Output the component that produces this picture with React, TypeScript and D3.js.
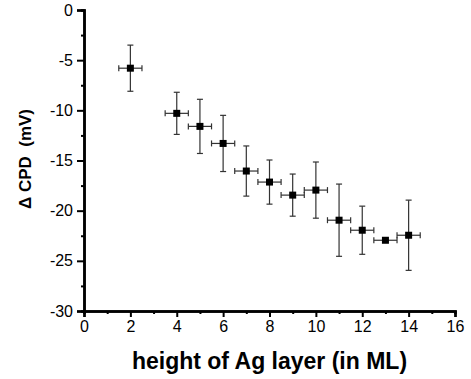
import React, { useRef, useEffect } from "react";
import * as d3 from "d3";

const heights = [2, 4, 5, 6, 7, 8, 9, 10, 11, 12, 13, 14];
const cpd = [-5.8, -10.3, -11.6, -13.3, -16.05, -17.15, -18.45, -17.95, -20.95, -21.95, -22.95, -22.45];
const cpdErr = [2.3, 2.1, 2.7, 2.8, 2.5, 2.2, 2.1, 2.8, 3.6, 2.4, 0.1, 3.5];
const heightErr = [0.5, 0.5, 0.5, 0.5, 0.5, 0.5, 0.5, 0.5, 0.5, 0.5, 0.5, 0.5];
const xTicks = [0, 2, 4, 6, 8, 10, 12, 14, 16];
const yTicks = [0, -5, -10, -15, -20, -25, -30];

const W = 471;
const H = 379;

const App = () => {
  const ref = useRef<SVGSVGElement>(null);

  useEffect(() => {
    const svg = d3.select(ref.current);
    svg.selectAll("*").remove();
    const margin = { top: 10, right: 16, bottom: 68, left: 84 };
    const innerW = W - margin.left - margin.right;
    const innerH = H - margin.top - margin.bottom;

    const x = d3.scaleLinear().domain([0, 16]).range([0, innerW]);
    const y = d3.scaleLinear().domain([-30, 0]).range([innerH, 0]);

    const g = svg.append("g").attr("transform", `translate(${margin.left},${margin.top})`);
    const font = "Liberation Sans, Arial, sans-serif";
    const fmt = (d: any) => String(d);

    // minor ticks
    const xAxisG = g.append("g").attr("transform", `translate(0,${innerH})`);
    xAxisG.call(
      d3.axisBottom(x).tickValues(d3.range(1, 16, 2)).tickSize(3).tickFormat(() => "")
    );
    xAxisG
      .append("g")
      .call(d3.axisBottom(x).tickValues(xTicks).tickSize(6).tickPadding(4).tickFormat(fmt));
    xAxisG.selectAll("path.domain").attr("stroke-width", 2.5).attr("stroke", "#000");
    xAxisG.selectAll("line").attr("stroke-width", 2).attr("stroke", "#000");
    xAxisG.selectAll("text").attr("font-family", font).attr("font-size", 16).attr("fill", "#000");

    const yAxisG = g.append("g");
    yAxisG.call(
      d3.axisLeft(y).tickValues(d3.range(-27.5, 0, 5)).tickSize(3).tickFormat(() => "")
    );
    yAxisG
      .append("g")
      .call(d3.axisLeft(y).tickValues(yTicks).tickSize(7).tickPadding(4).tickFormat(fmt));
    yAxisG.selectAll("path.domain").attr("stroke-width", 2.5).attr("stroke", "#000");
    yAxisG.selectAll("line").attr("stroke-width", 2).attr("stroke", "#000");
    yAxisG.selectAll("text").attr("font-family", font).attr("font-size", 16).attr("fill", "#000");

    const pts = heights.map((h, i) => ({ h, v: cpd[i], ev: cpdErr[i], eh: heightErr[i] }));
    const cap = 3;
    const eb = g.append("g").attr("stroke", "#333").attr("stroke-width", 1.2).attr("fill", "none");
    pts.forEach((p) => {
      const cx = x(p.h);
      const cy = y(p.v);
      const y1 = y(p.v + p.ev);
      const y2 = y(p.v - p.ev);
      const x1 = x(p.h - p.eh);
      const x2 = x(p.h + p.eh);
      eb.append("line").attr("x1", cx).attr("x2", cx).attr("y1", y1).attr("y2", y2);
      eb.append("line").attr("x1", cx - cap).attr("x2", cx + cap).attr("y1", y1).attr("y2", y1);
      eb.append("line").attr("x1", cx - cap).attr("x2", cx + cap).attr("y1", y2).attr("y2", y2);
      eb.append("line").attr("x1", x1).attr("x2", x2).attr("y1", cy).attr("y2", cy);
      eb.append("line").attr("x1", x1).attr("x2", x1).attr("y1", cy - cap).attr("y2", cy + cap);
      eb.append("line").attr("x1", x2).attr("x2", x2).attr("y1", cy - cap).attr("y2", cy + cap);
    });

    g.selectAll("rect.pt")
      .data(pts)
      .enter()
      .append("rect")
      .attr("class", "pt")
      .attr("x", (d) => x(d.h) - 3.5)
      .attr("y", (d) => y(d.v) - 3.5)
      .attr("width", 7)
      .attr("height", 7)
      .attr("fill", "#000");

    svg
      .append("text")
      .attr("x", margin.left + innerW / 2)
      .attr("y", 369)
      .attr("text-anchor", "middle")
      .attr("font-family", font)
      .attr("font-weight", "bold")
      .attr("font-size", 23)
      .text("height of Ag layer (in ML)");

    svg
      .append("text")
      .attr("transform", `translate(31,159) rotate(-90)`)
      .attr("text-anchor", "middle")
      .attr("font-family", font)
      .attr("font-weight", "bold")
      .attr("font-size", 17)
      .attr("xml:space", "preserve")
      .text("\u0394 CPD  (mV)");
  }, []);

  return <svg ref={ref} width={W} height={H} style={{ position: "absolute", left: 0, top: 0 }} />;
};

export default App;
